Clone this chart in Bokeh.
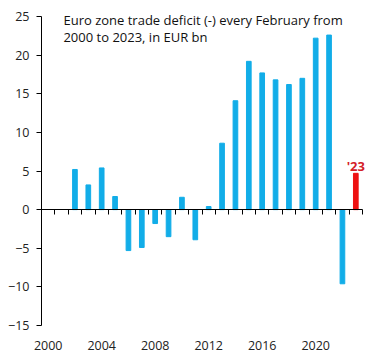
import math
from bokeh.plotting import figure
from bokeh.models import (ColumnDataSource, Range1d, LinearAxis, FixedTicker,
                          Label, CustomJSTickFormatter)
from bokeh.embed import file_html
from bokeh.resources import INLINE

# ---- data -------------------------------------------------------------
years = list(range(2000, 2024))
balance = [float("nan"), float("nan"), 5.2, 3.2, 5.4, 1.7, -5.3, -4.9, -1.8, -3.5,
           1.6, -3.9, 0.4, 8.6, 14.1, 19.2, 17.7, 16.8, 16.2, 17.0,
           22.2, 22.6, -9.6, 4.7]
year_labels = [2000, 2004, 2008, 2012, 2016, 2020]
y_ticks = [-15, -10, -5, 0, 5, 10, 15, 20, 25]
title_lines = ["Euro zone trade deficit (-) every February from",
               "2000  to 2023,  in EUR bn"]
highlight_label = "'23"

BLUE = "#12ADE8"
RED = "#EE1111"
FONT = "Open Sans"

xs, tops, cols = [], [], []
for yr, v in zip(years, balance):
    if v is None or (isinstance(v, float) and math.isnan(v)):
        continue
    xs.append(yr)
    tops.append(v)
    cols.append(RED if yr == years[-1] else BLUE)
src = ColumnDataSource(dict(x=xs, top=tops, color=cols))

PX_PER_UNIT_Y = 7.7
PX_PER_YEAR = 13.375
extra_top = 9 / PX_PER_UNIT_Y      # headroom so the title is not clipped
extra_right = 10 / PX_PER_YEAR     # room so the '23 label is not clipped

x_lo, x_hi = years[0] - 0.5, years[-1] + 0.5

p = figure(width=376, height=352, output_backend="svg", toolbar_location=None,
           x_range=Range1d(x_lo, x_hi + extra_right),
           y_range=Range1d(y_ticks[0], y_ticks[-1] + extra_top),
           min_border_left=41, min_border_right=4, min_border_top=7,
           min_border_bottom=10, x_axis_location=None, y_axis_location=None)
p.outline_line_color = None
p.xgrid.visible = False
p.ygrid.visible = False
p.background_fill_color = "white"
p.border_fill_color = "white"

p.vbar(x="x", top="top", bottom=0, width=0.35, color="color", source=src)

# y axis
yax = LinearAxis(ticker=FixedTicker(ticks=y_ticks), bounds=(y_ticks[0], y_ticks[-1]))
yax.axis_line_color = "black"
yax.major_tick_line_color = "black"
yax.major_tick_out = 5
yax.major_tick_in = 0
yax.minor_tick_line_color = None
yax.major_label_standoff = 7
yax.major_label_text_font = FONT
yax.major_label_text_font_size = "12.5px"
yax.major_label_text_color = "#222222"
p.add_layout(yax, "left")

# x labels at bottom
xlab = LinearAxis(ticker=FixedTicker(ticks=year_labels))
xlab.axis_line_color = None
xlab.major_tick_line_color = None
xlab.minor_tick_line_color = None
xlab.major_label_standoff = 9
xlab.major_label_text_font = FONT
xlab.major_label_text_font_size = "12.5px"
xlab.major_label_text_color = "#222222"
p.add_layout(xlab, "below")

# zero axis with boundary ticks
bounds = [y - 0.5 for y in years] + [years[-1] + 0.5]
zax = LinearAxis(ticker=FixedTicker(ticks=bounds), fixed_location=0,
                 bounds=(x_lo, x_hi))
zax.axis_line_color = "black"
zax.major_tick_line_color = "black"
zax.major_tick_out = 5
zax.major_tick_in = 0
zax.minor_tick_line_color = None
zax.major_label_text_font_size = "0px"
zax.major_label_standoff = 0
zax.formatter = CustomJSTickFormatter(code="return ''")
p.add_layout(zax, "below")

# title text
p.add_layout(Label(x=years[0] + 1.14, y=24.6, text=title_lines[0],
                   text_font=FONT, text_font_size="13px", text_color="#111111",
                   text_baseline="alphabetic"))
p.add_layout(Label(x=years[0] + 1.14, y=22.35, text=title_lines[1],
                   text_font=FONT, text_font_size="13px", text_color="#111111",
                   text_baseline="alphabetic"))

# highlight label
p.add_layout(Label(x=years[-1], y=balance[-1], y_offset=7, text=highlight_label,
                   text_font=FONT, text_font_size="13px", text_font_style="bold",
                   text_color="#D42027", text_align="center",
                   text_baseline="alphabetic"))

open("out.html", "w").write(file_html(p, INLINE))
